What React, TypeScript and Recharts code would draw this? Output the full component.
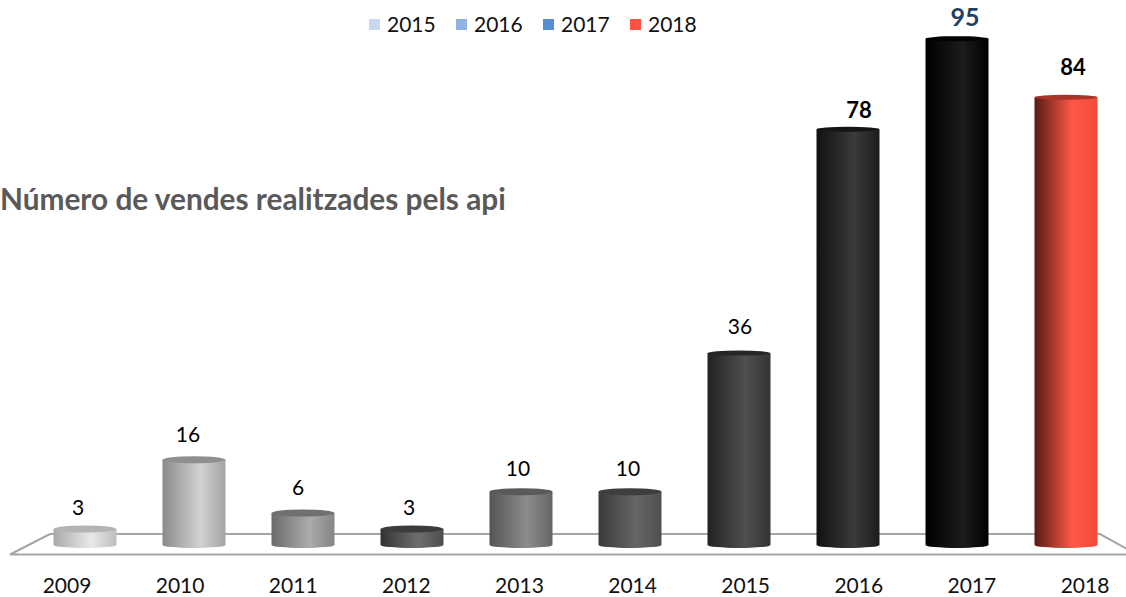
import { Bar, BarChart, LabelList, Legend, XAxis, YAxis } from "recharts";

const years = ["2009", "2010", "2011", "2012", "2013", "2014", "2015", "2016", "2017", "2018"];
const sales = [3, 16, 6, 3, 10, 10, 36, 78, 95, 84];
const legendYears = ["2015", "2016", "2017", "2018"];
const legendColors = ["#c6d9f1", "#8eb4e3", "#558ed5", "#ff5040"];

// left edge, highlight, right edge, cap
const barShades = [
  ["#a9a9a9", "#e9e9e9", "#bdbdbd", "#b4b4b4"],
  ["#8a8a8a", "#d2d2d2", "#a3a3a3", "#8f8f8f"],
  ["#6a6a6a", "#ababab", "#858585", "#707070"],
  ["#333333", "#6e6e6e", "#4d4d4d", "#3c3c3c"],
  ["#555555", "#8c8c8c", "#666666", "#5a5a5a"],
  ["#3a3a3a", "#666666", "#4f4f4f", "#3e3e3e"],
  ["#222222", "#4f4f4f", "#333333", "#262626"],
  ["#111111", "#3a3a3a", "#1b1b1b", "#151515"],
  ["#000000", "#1c1c1c", "#000000", "#030303"],
  ["#571a14", "#ff5846", "#f04a38", "#a8352a"],
];
// the value labels sit a little off centre in the picture
const labelDx = [-7, -6, -5, -3, -3, -2, 1, 11, 8, 7];
const labelGap = [23, 26, 27, 23, 24, 24, 28, 20, 23, 31];
const labelColors = ["#000", "#000", "#000", "#000", "#000", "#000", "#000", "#000", "#1f3f66", "#000"];

const data = years.map((year, i) => ({ year, sales: sales[i] }));
const font = "Lato, 'Open Sans', sans-serif";

function Cylinder(props: any) {
  const { x, y, width, height, index } = props;
  const rx = width / 2;
  const ry = height > 150 ? 2.5 : 3.5;
  const bottom = y + height;
  const d = `M${x},${y} L${x},${bottom} A${rx},3 0 0 0 ${x + width},${bottom} L${x + width},${y} Z`;
  return (
    <g>
      <path d={d} fill={`url(#cyl${index})`} />
      <ellipse cx={x + rx} cy={y} rx={rx} ry={ry} fill={barShades[index][3]} />
    </g>
  );
}

function YearTick(props: any) {
  const { x, payload } = props;
  // labels spread wider than the bars because of the floor's perspective
  const spread = 67 + ((x - 85) * 1017) / 980;
  return (
    <text x={spread} y={584} textAnchor="middle" dominantBaseline="central" fontSize={21} fontFamily={font} fill="#111">
      {payload.value}
    </text>
  );
}

function ValueLabel(props: any) {
  const { x, y, width, value, index } = props;
  const bold = index >= 7;
  const big = index === 8;
  return (
    <text
      x={x + width / 2 + labelDx[index]}
      y={y - labelGap[index]}
      textAnchor="middle"
      dominantBaseline="central"
      fontSize={big ? 25 : bold ? 22 : 21}
      fontWeight={bold ? 700 : 400}
      fontFamily={font}
      fill={labelColors[index]}
    >
      {value}
    </text>
  );
}

function YearLegend() {
  return (
    <div style={{ height: 0, position: "relative", fontFamily: font, fontSize: 21, color: "#111" }}>
      {legendYears.map((year, i) => (
        <div key={year} style={{ position: "absolute", left: 338.5 + i * 87, top: -2, display: "flex", alignItems: "center", lineHeight: "28px" }}>
          <span style={{ width: 11, height: 11, background: legendColors[i], marginRight: 7 }} />
          {year}
        </div>
      ))}
    </div>
  );
}

export default function App() {
  return (
    <div style={{ position: "relative", width: 1126, height: 597, overflow: "hidden", background: "#fff" }}>
      <style>{"body{margin:0}"}</style>
      <svg width={1126} height={597} style={{ position: "absolute", left: 0, top: 0 }}>
        <path d="M50,534 L1100,534 L1140,556 M50,534 L10,554.5 L1126,554.5" fill="none" stroke="#a6a6a6" strokeWidth={2} />
      </svg>
      <div
        style={{
          position: "absolute",
          left: 0,
          top: 181,
          fontFamily: font,
          fontWeight: 700,
          fontSize: 29.8,
          lineHeight: "36px",
          color: "#595959",
          whiteSpace: "nowrap",
        }}
      >
        Número de vendes realitzades pels api
      </div>
      <BarChart
        width={1126}
        height={597}
        data={data}
        margin={{ top: 12, right: 5.5, bottom: 0, left: 30.5 }}
        style={{ position: "absolute", left: 0, top: 0 }}
      >
        <defs>
          {barShades.map((s, i) => (
            <linearGradient key={i} id={`cyl${i}`} x1="0" y1="0" x2="1" y2="0">
              <stop offset="0%" stopColor={s[0]} />
              <stop offset="60%" stopColor={s[1]} />
              <stop offset="100%" stopColor={s[2]} />
            </linearGradient>
          ))}
        </defs>
        <XAxis dataKey="year" axisLine={false} tickLine={false} interval={0} height={52} tick={YearTick} />
        <YAxis hide domain={[0, 100]} />
        <Legend verticalAlign="top" content={YearLegend} />
        <Bar dataKey="sales" barSize={63} shape={Cylinder} isAnimationActive={false}>
          <LabelList dataKey="sales" content={ValueLabel} />
        </Bar>
      </BarChart>
    </div>
  );
}
